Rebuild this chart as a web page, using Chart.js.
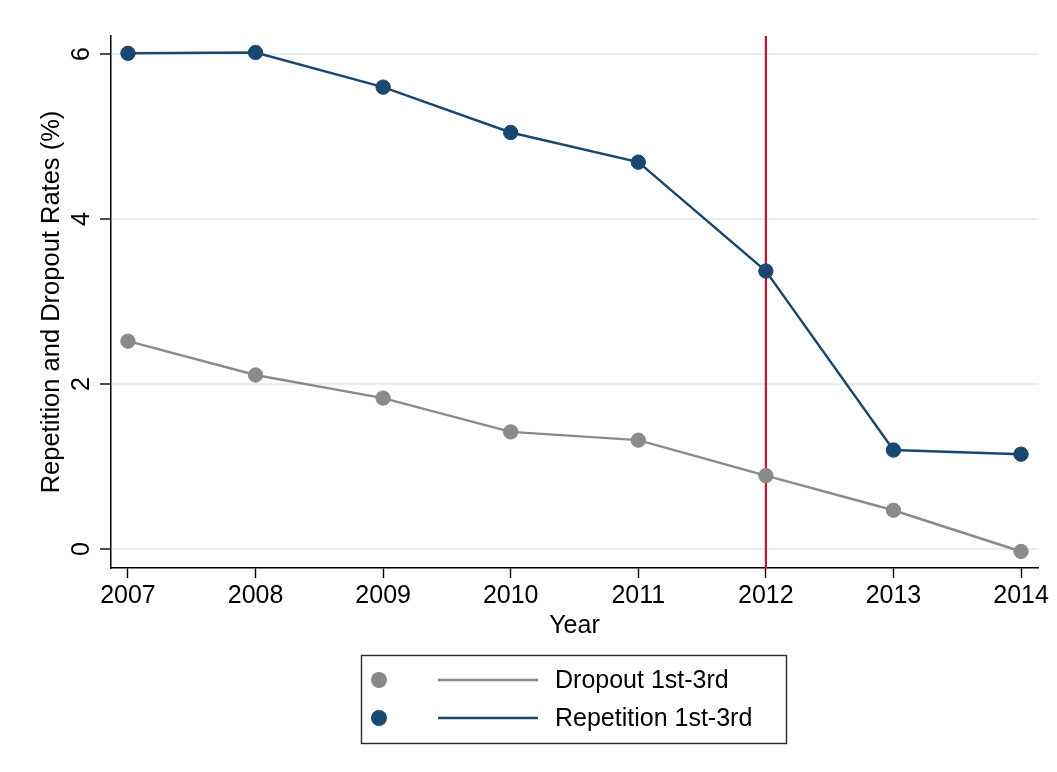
<!DOCTYPE html>
<html>
<head>
<meta charset="utf-8">
<title>Repetition and Dropout Rates</title>
<script src="https://cdn.jsdelivr.net/npm/chart.js@4.4.1/dist/chart.umd.min.js"></script>
<style>
  html, body { margin: 0; padding: 0; background: #ffffff; }
  canvas { display: block; }
</style>
</head>
<body>
<canvas id="chart" width="1057" height="772"></canvas>
<script>
// Grade 1st-3rd rates by school year (%)
const years = [2007, 2008, 2009, 2010, 2011, 2012, 2013, 2014];
const dropoutRates = [2.52, 2.11, 1.83, 1.42, 1.32, 0.89, 0.47, -0.03];
const repetitionRates = [6.01, 6.02, 5.60, 5.05, 4.69, 3.37, 1.20, 1.15];
const rateTicks = [0, 2, 4, 6];
const seriesNames = ['Dropout 1st-3rd', 'Repetition 1st-3rd'];
const policyYear = 2012;

const FONT_FAMILY = '"Liberation Sans", Arial, Helvetica, sans-serif';
const FONT_SIZE = 25;
const GRAY = '#8a8a8a';
const NAVY = '#1a476f';
const RED = '#c8102e';

const toPoints = values => values.map((v, i) => ({ x: years[i], y: v }));

// Vertical reference line at the policy year, drawn beneath the markers
const policyLine = {
  id: 'policyLine',
  beforeDatasetsDraw(chart) {
    const { ctx, chartArea, scales } = chart;
    const x = scales.x.getPixelForValue(policyYear);
    ctx.save();
    ctx.strokeStyle = RED;
    ctx.lineWidth = 2.2;
    ctx.beginPath();
    ctx.moveTo(x, chartArea.top);
    ctx.lineTo(x, chartArea.bottom);
    ctx.stroke();
    ctx.restore();
  }
};

// Boxed legend below the axis: marker, line sample, label
const boxedLegend = {
  id: 'boxedLegend',
  afterDraw(chart) {
    const { ctx } = chart;
    const box = { x: 361.5, y: 655.5, w: 425, h: 88 };
    ctx.save();
    ctx.strokeStyle = '#2a2a2a';
    ctx.lineWidth = 1.4;
    ctx.strokeRect(box.x, box.y, box.w, box.h);
    ctx.font = `${FONT_SIZE}px ${FONT_FAMILY}`;
    ctx.textBaseline = 'middle';
    ctx.textAlign = 'left';
    chart.data.datasets.forEach((ds, i) => {
      const cy = 680 + i * 38;
      ctx.fillStyle = ds.pointBackgroundColor;
      ctx.beginPath();
      ctx.arc(379, cy, 8, 0, Math.PI * 2);
      ctx.fill();
      ctx.strokeStyle = ds.borderColor;
      ctx.lineWidth = 2.4;
      ctx.beginPath();
      ctx.moveTo(438, cy);
      ctx.lineTo(538, cy);
      ctx.stroke();
      ctx.fillStyle = '#000';
      ctx.fillText(ds.label, 555, cy + 1);
    });
    ctx.restore();
  }
};

const seriesStyle = color => ({
  borderColor: color,
  backgroundColor: color,
  pointBackgroundColor: color,
  pointBorderColor: color,
  pointRadius: 7.2,
  pointBorderWidth: 1,
  borderWidth: 2.4,
  tension: 0,
  clip: false
});

new Chart(document.getElementById('chart'), {
  type: 'line',
  data: {
    datasets: [
      { label: seriesNames[0], data: toPoints(dropoutRates), ...seriesStyle(GRAY) },
      { label: seriesNames[1], data: toPoints(repetitionRates), ...seriesStyle(NAVY) }
    ]
  },
  options: {
    responsive: false,
    animation: false,
    events: [],
    layout: { padding: { left: 0, top: 36, right: 19, bottom: 0 } },
    plugins: {
      legend: { display: false },
      tooltip: { enabled: false }
    },
    scales: {
      x: {
        type: 'linear',
        bounds: 'data',
        min: 2006.867,
        max: 2014.133,
        afterBuildTicks: s => { s.ticks = years.map(v => ({ value: v })); },
        afterFit: s => { s.height = 204; s.paddingLeft = 0; s.paddingRight = 0; },
        grid: { drawOnChartArea: false, drawTicks: true, tickLength: 10, tickColor: '#000', tickWidth: 1.4 },
        border: { display: true, color: '#000', width: 1.5 },
        ticks: {
          color: '#000',
          font: { family: FONT_FAMILY, size: FONT_SIZE },
          padding: 3,
          maxRotation: 0,
          autoSkip: false,
          callback: v => String(v)
        },
        title: {
          display: true,
          text: 'Year',
          color: '#000',
          font: { family: FONT_FAMILY, size: FONT_SIZE },
          padding: { top: 0, bottom: 131 }
        }
      },
      y: {
        type: 'linear',
        bounds: 'data',
        min: -0.23,
        max: 6.22,
        afterBuildTicks: s => { s.ticks = rateTicks.map(v => ({ value: v })); },
        afterFit: s => { s.width = 111; s.paddingTop = 0; s.paddingBottom = 0; },
        grid: { color: '#e6eff1', lineWidth: 2, drawTicks: true, tickLength: 11, tickColor: '#000', tickWidth: 1.4 },
        border: { display: true, color: '#000', width: 1.5 },
        ticks: {
          color: '#000',
          font: { family: FONT_FAMILY, size: FONT_SIZE },
          padding: 11,
          minRotation: 90,
          maxRotation: 90,
          crossAlign: 'center',
          callback: v => String(v)
        },
        title: {
          display: true,
          text: 'Repetition and Dropout Rates (%)',
          color: '#000',
          font: { family: FONT_FAMILY, size: 25.5 },
          padding: { top: 37, bottom: 0 }
        }
      }
    }
  },
  plugins: [policyLine, boxedLegend]
});
</script>
</body>
</html>
